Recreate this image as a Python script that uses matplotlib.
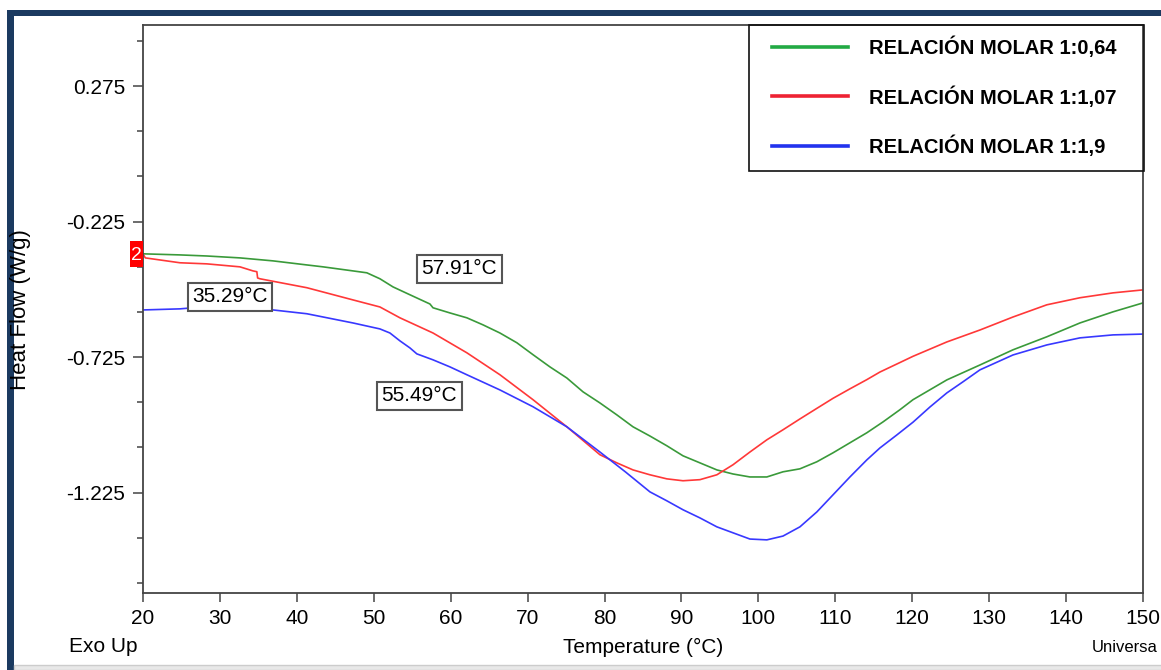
import matplotlib
matplotlib.use('Agg')
import matplotlib.pyplot as plt
from matplotlib.patches import Rectangle
from matplotlib.ticker import FixedLocator

# DSC curves (Temperature in C, Heat Flow in W/g)
green_t = [20.0, 24.8, 28.3, 32.6, 36.9, 41.3, 43.4, 47.3, 49.1, 50.8, 52.5, 54.7, 57.3, 57.7,
           59.9, 62.1, 64.2, 66.4, 68.6, 70.7, 72.9, 75.1, 77.2, 79.4, 81.6, 83.7, 85.9,
           88.1, 90.2, 92.4, 94.6, 96.7, 98.9, 101.1, 103.2, 105.4, 107.6, 109.7, 111.9,
           114.1, 116.2, 118.4, 120.1, 124.5, 128.8, 133.1, 137.5, 141.8, 146.1, 150.0]
green_hf = [-0.344, -0.348, -0.352, -0.359, -0.370, -0.385, -0.392, -0.407, -0.414, -0.436,
            -0.466, -0.495, -0.529, -0.543, -0.562, -0.580, -0.606, -0.636, -0.672, -0.716,
            -0.761, -0.802, -0.853, -0.894, -0.938, -0.982, -1.016, -1.052, -1.089, -1.115,
            -1.141, -1.156, -1.167, -1.167, -1.148, -1.137, -1.111, -1.078, -1.041, -1.004,
            -0.964, -0.919, -0.882, -0.809, -0.754, -0.698, -0.650, -0.599, -0.558, -0.525]

red_t = [20.0, 20.3, 24.8, 28.3, 32.6, 34.3, 34.8, 34.9, 35.2, 41.3, 47.3, 50.8, 53.4, 57.7,
         62.1, 66.4, 70.7, 75.1, 79.4, 81.6, 83.7, 85.9, 88.1, 90.2, 92.4, 94.6, 96.7, 98.9,
         101.1, 103.2, 105.4, 107.6, 109.7, 111.9, 114.1, 115.8, 118.4, 120.1, 124.5, 128.8,
         133.1, 137.5, 141.8, 146.1, 150.0]
red_hf = [-0.344, -0.359, -0.377, -0.381, -0.392, -0.407, -0.410, -0.433, -0.436, -0.469,
          -0.514, -0.540, -0.580, -0.636, -0.709, -0.790, -0.882, -0.982, -1.085, -1.115,
          -1.141, -1.159, -1.174, -1.181, -1.177, -1.159, -1.122, -1.075, -1.030, -0.993,
          -0.953, -0.914, -0.877, -0.842, -0.808, -0.780, -0.745, -0.722, -0.669, -0.625,
          -0.577, -0.532, -0.506, -0.488, -0.477]

blue_t = [20.0, 24.8, 26.5, 32.6, 36.9, 41.3, 47.3, 50.8, 52.1, 53.4, 54.7, 55.6, 57.7, 59.9,
          62.1, 66.4, 70.7, 75.1, 79.4, 82.7, 85.9, 88.1, 90.2, 92.4, 94.6, 96.7, 98.9,
          101.1, 103.2, 105.4, 107.6, 109.7, 111.9, 114.1, 115.8, 118.0, 120.1, 122.3,
          124.5, 126.6, 128.8, 133.1, 137.5, 141.8, 146.1, 150.0]
blue_hf = [-0.551, -0.547, -0.543, -0.543, -0.551, -0.565, -0.599, -0.621, -0.636, -0.665,
           -0.691, -0.713, -0.735, -0.761, -0.790, -0.846, -0.908, -0.982, -1.075, -1.148,
           -1.222, -1.255, -1.288, -1.318, -1.351, -1.373, -1.396, -1.399, -1.385, -1.351,
           -1.296, -1.233, -1.167, -1.104, -1.060, -1.012, -0.965, -0.909, -0.857, -0.816,
           -0.772, -0.717, -0.680, -0.654, -0.643, -0.640]

labels = ['RELACIÓN MOLAR 1:0,64', 'RELACIÓN MOLAR 1:1,07', 'RELACIÓN MOLAR 1:1,9']

# annotation boxes: text, temperature, heat flow
notes = [('57.91°C', 61.1, -0.399),
         ('35.29°C', 31.3, -0.503),
         ('55.49°C', 55.9, -0.868)]

x_ticks = list(range(20, 151, 10))
y_ticks = [0.275, -0.225, -0.725, -1.225]
y_minor = [0.275 + k * 0.5 / 3 for k in range(-11, 2) if k % 3 != 0]

plt.rcParams['font.family'] = ['Liberation Sans', 'DejaVu Sans']

W, H = 1161, 670
fig = plt.figure(figsize=(W / 100, H / 100), dpi=100)
ax = fig.add_axes([143 / W, 1 - 593 / H, 1000 / W, 568 / H])

ax.plot(green_t, green_hf, color='#3a9a3a', lw=1.2)
ax.plot(red_t, red_hf, color='#ff3838', lw=1.2)
ax.plot(blue_t, blue_hf, color='#3838ff', lw=1.2)

ax.set_xlim(20, 150)
ax.set_ylim(-1.595, 0.5)
ax.set_xticks(x_ticks)
ax.set_yticks(y_ticks)
ax.set_yticklabels(['0.275', '-0.225', '-0.725', '-1.225'])
ax.yaxis.set_minor_locator(FixedLocator(y_minor))

for s in ax.spines.values():
    s.set_color('#444444')
    s.set_linewidth(1.3)
ax.tick_params(axis='x', length=6.5, width=1.1, color='#444444', pad=5, labelsize=15)
ax.tick_params(axis='y', which='major', length=7, width=1.1, color='#444444', pad=6, labelsize=15)
ax.tick_params(axis='y', which='minor', length=4.5, width=1.1, color='#444444')

# annotations
for txt, t, hf in notes:
    ax.text(t, hf, txt, ha='center', va='center', fontsize=15,
            bbox=dict(boxstyle='square,pad=0.22', fc='white', ec='#555555', lw=1.5))

# red marker "2" at the start of the curves
fig.add_artist(Rectangle((130 / W, 1 - 267 / H), 13 / W, 26 / H, transform=fig.transFigure,
                         fc='#ff0000', ec='none'))
fig.text(136.5 / W, 1 - 254 / H, '2', ha='center', va='center_baseline', color='white', fontsize=14)

# legend
handles = [plt.Line2D([], [], color=c, lw=2.6) for c in ('#22aa44', '#ee2233', '#2233ee')]
leg = ax.legend(handles, labels, loc='upper left', bbox_to_anchor=(0.629, 0.979),
                frameon=False, borderpad=0, borderaxespad=0, handlelength=3.75,
                handletextpad=1.05, labelspacing=1.37,
                prop={'weight': 'bold', 'size': 14.5})
ax.add_patch(Rectangle((0.606, 0.743), 0.395, 0.257, transform=ax.transAxes, fill=False,
                       ec='#111111', lw=1.2, clip_on=False, zorder=5))

# axis labels placed like the instrument software
fig.text(21 / W, 1 - 310 / H, 'Heat Flow (W/g)', rotation=90, ha='center', va='center', fontsize=16)
fig.text(103 / W, 1 - 647 / H, 'Exo Up', ha='center', va='center', fontsize=15)
fig.text(643 / W, 1 - 647 / H, 'Temperature (°C)', ha='center', va='center', fontsize=15)
fig.text(1158 / W, 1 - 647 / H, 'Universa', ha='right', va='center', fontsize=12)

# frame decoration of the screenshot
navy = '#1b3a60'
fig.add_artist(Rectangle((7 / W, 1 - 16 / H), 1, 6 / H, transform=fig.transFigure, fc=navy, ec='none'))
fig.add_artist(Rectangle((7 / W, 0), 7 / W, 1 - 10 / H, transform=fig.transFigure, fc=navy, ec='none'))
fig.add_artist(Rectangle((14 / W, 0), 1, 5 / H, transform=fig.transFigure, fc='#e8e8e8', ec='#cccccc', lw=1))

fig.savefig('out.png', dpi=100)
